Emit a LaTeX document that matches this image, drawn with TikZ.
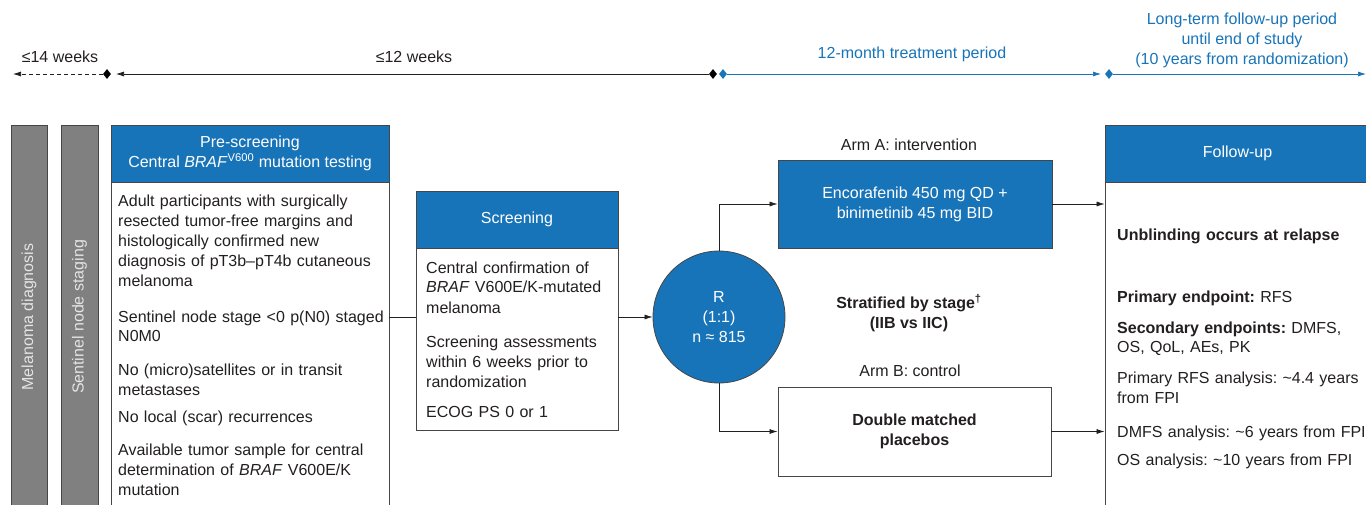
\documentclass[tikz,border=0pt]{standalone}
\usepackage{fontspec}
\setmainfont{Liberation Sans}
\usetikzlibrary{arrows.meta,shapes.geometric,calc}
\definecolor{myblue}{RGB}{24,116,184}
\definecolor{txt}{RGB}{35,31,32}
\definecolor{barfill}{RGB}{128,128,128}
\definecolor{bartext}{RGB}{228,228,228}
\definecolor{edge}{RGB}{70,70,70}
\frenchspacing
\begin{document}
\begin{tikzpicture}[x=1pt,y=-1pt,
  every node/.style={font=\fontsize{16}{20}\selectfont, text=txt, inner sep=0pt},
  hdr/.style={draw=edge, fill=myblue, text=white, line width=0.8pt, align=center},
  bodybox/.style={draw=edge, fill=white, line width=0.8pt},
  para/.style={anchor=base west, text width=290pt, align=left},
  bar/.style={draw=edge, fill=barfill, text=bartext, rotate=90, line width=0.8pt},
  conn/.style={draw=txt, line width=0.7pt},
  arr/.style={conn, -{Latex[length=8pt,width=5pt]}},
  dia/.style={diamond, fill=#1, minimum width=8pt, minimum height=10pt, inner sep=0pt},
  bfont/.style={font={\fontsize{16}{20}\selectfont\bfseries}}
]
\useasboundingbox (0,0) rectangle (1366,505);

% timeline
\node[dia=black] (d1) at (107,74) {};
\node[dia=black] (d2) at (713,74) {};
\node[dia=myblue] (d3) at (723,74) {};
\node[dia=myblue] (d4) at (1109,74) {};
\coordinate (t0) at (13,74);
\coordinate (t1) at (116,74);
\coordinate (t2) at (1101,74);
\coordinate (t3) at (1366,74);
\draw[conn, dash pattern=on 4pt off 3pt, -{Latex[length=8pt,width=5pt]}] (d1) -- (t0);
\draw[arr] (d2) -- (t1);
\draw[arr, color=myblue, draw=myblue] (d3) -- (t2);
\draw[arr, color=myblue, draw=myblue] (d4) -- (t3);

\node (lab14) at (60,57) {≤14 weeks};
\node (lab12) at (414,57) {≤12 weeks};
\node[text=myblue] (labtreat) at (912,54) {12-month treatment period};
\node[text=myblue, align=center] (labfu) at (1242,40) {Long-term follow-up period\\until end of study\\(10 years from randomization)};

% grey bars
\node[bar, minimum width=384pt, minimum height=36pt] (mel) at (29,317) {Melanoma diagnosis};
\node[bar, minimum width=384pt, minimum height=37pt] (sen) at (79.5,317) {Sentinel node staging};

% pre-screening
\node[bodybox, minimum width=278pt, minimum height=338pt] (psb) at (250,351) {};
\node[hdr, minimum width=278pt, minimum height=57pt] (psh) at (250,153.5) {Pre-screening\\Central \textit{BRAF}\textsuperscript{V600} mutation testing};
\node[para] (p1) at (118,207) {Adult participants with surgically\\resected tumor-free margins and\\histologically confirmed new\\diagnosis of pT3b–pT4b cutaneous\\melanoma};
\node[para] (p2) at (118,322) {Sentinel node stage <0 p(N0) staged\\N0M0};
\node[para] (p3) at (118,375) {No (micro)satellites or in transit\\metastases};
\node[para] (p4) at (118,422) {No local (scar) recurrences};
\node[para] (p5) at (118,455) {Available tumor sample for central\\determination of \textit{BRAF} V600E/K\\mutation};

% screening
\node[bodybox, minimum width=202pt, minimum height=182pt] (scb) at (517,339) {};
\node[hdr, minimum width=202pt, minimum height=57pt] (sch) at (517,219.5) {Screening};
\node[para] (s1) at (426,273) {Central confirmation of\\\textit{BRAF} V600E/K-mutated\\melanoma};
\node[para] (s2) at (426,347) {Screening assessments\\within 6 weeks prior to\\randomization};
\node[para] (s3) at (426,417) {ECOG PS 0 or 1};

% randomisation
\node[circle, fill=myblue, draw=edge, line width=0.8pt, minimum size=132pt, text=white, align=center] (R) at (719,317) {R\\(1:1)\\n ≈ 815};

% arms
\node (armAlab) at (909,145) {Arm A: intervention};
\node[hdr, minimum width=274pt, minimum height=88pt] (armA) at (915,204) {Encorafenib 450 mg QD +\\binimetinib 45 mg BID};
\node[bfont, align=center] (strat) at (909,313) {Stratified by stage\textsuperscript{†}\\(IIB vs IIC)};
\node (armBlab) at (910,371) {Arm B: control};
\node[bodybox, bfont, align=center, minimum width=273pt, minimum height=89pt] (armB) at (914.5,431.5) {Double matched\\placebos};

% follow-up
\node[bodybox, minimum width=265pt, minimum height=338pt] (fub) at (1237.5,351) {};
\node[hdr, minimum width=265pt, minimum height=57pt] (fuh) at (1237.5,153.5) {Follow-up};
\node[para, bfont] (f1) at (1117,241) {Unblinding occurs at relapse};
\node[para] (f2) at (1117,302) {\textbf{Primary endpoint:} RFS};
\node[para] (f3) at (1117,333) {\textbf{Secondary endpoints:} DMFS,\\OS, QoL, AEs, PK};
\node[para] (f4) at (1117,383) {Primary RFS analysis: \textasciitilde4.4 years\\from FPI};
\node[para] (f5) at (1117,437) {DMFS analysis: \textasciitilde6 years from FPI};
\node[para] (f6) at (1117,465) {OS analysis: \textasciitilde10 years from FPI};

% connectors
\draw[conn] (R -| psb.east) -- (R -| scb.west);
\draw[arr] (R -| scb.east) -- (R.west);
\draw[arr] (R.north) |- (armA.west);
\draw[arr] (R.south) |- (armB.west);
\draw[arr] (armA.east) -- (armA.east -| fub.west);
\draw[arr] (armB.east) -- (armB.east -| fub.west);
\end{tikzpicture}
\end{document}
